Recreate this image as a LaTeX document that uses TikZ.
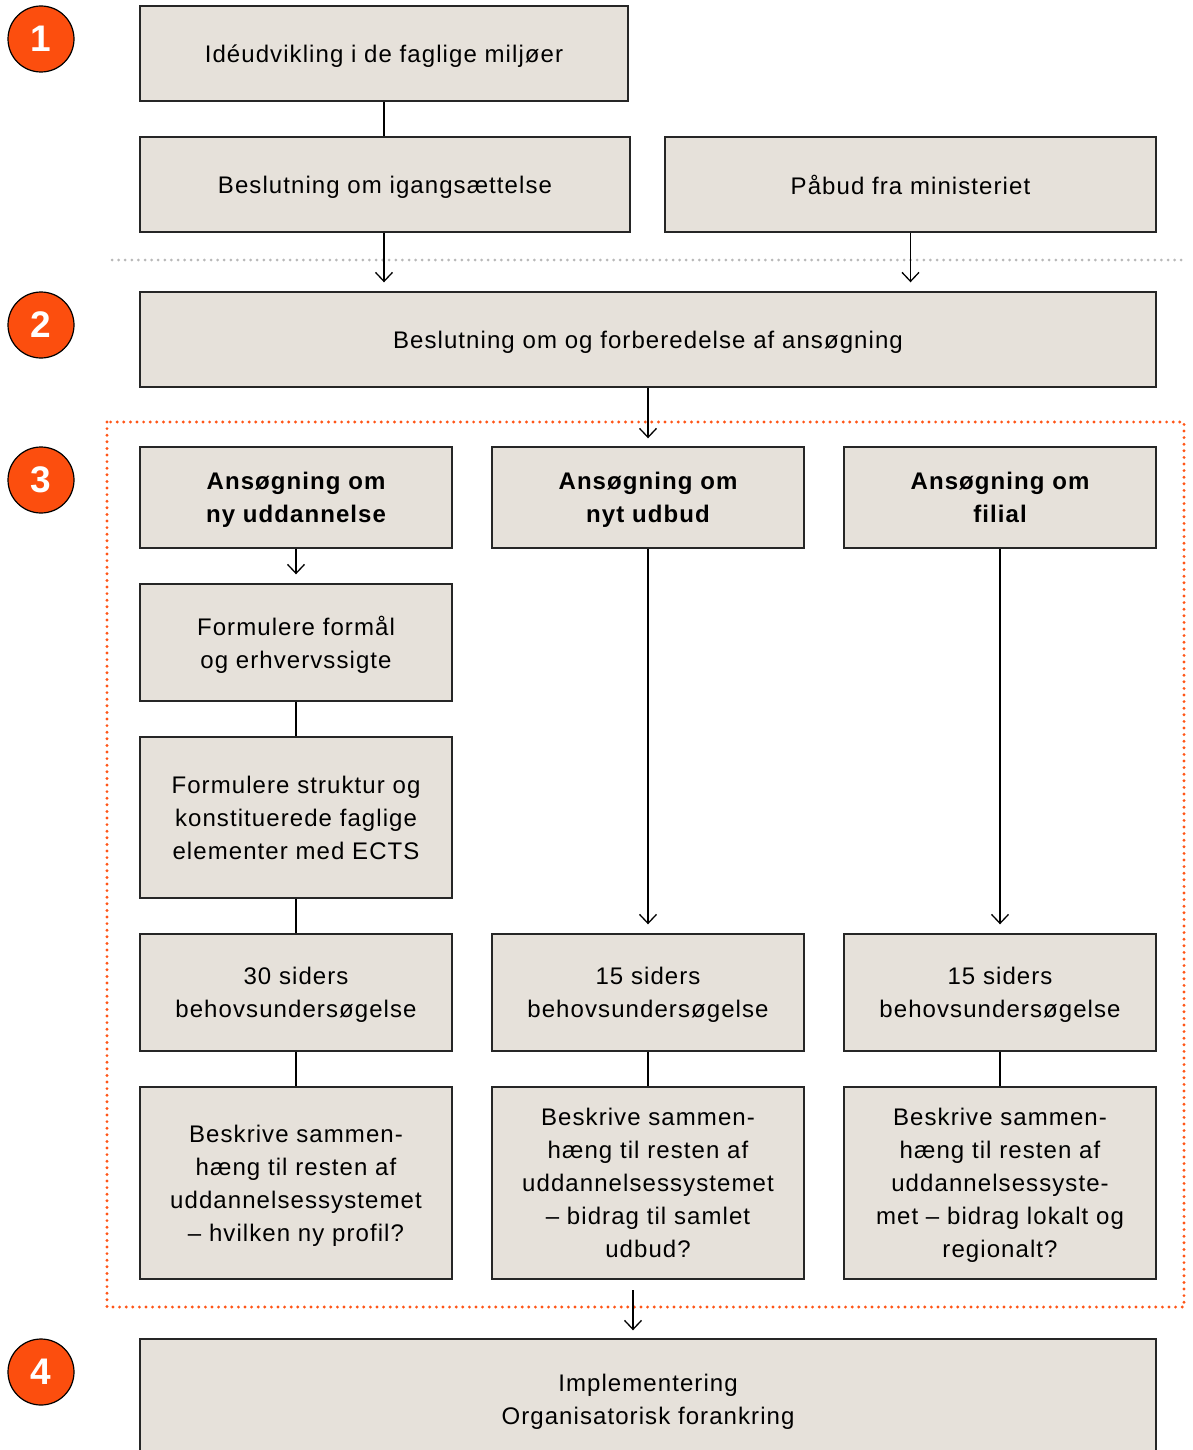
\documentclass[tikz,border=0pt]{standalone}
\usepackage{fontspec}
\setmainfont{Liberation Sans}[LetterSpace=4.5]
\newfontfamily\numfont{Liberation Sans}
\usetikzlibrary{arrows.meta}
\definecolor{boxfill}{HTML}{E6E1DA}
\definecolor{orng}{HTML}{FC4E0E}
\definecolor{dotorng}{HTML}{FF5517}
\definecolor{dotgray}{HTML}{B8B8B8}
\tikzset{
  box/.style={draw=black!85, line width=1.4pt, fill=boxfill, align=center, inner sep=0pt,
    text depth=0pt, font=\fontsize{24}{33}\selectfont},
  titlebox/.style={box, font=\fontsize{24}{33}\selectfont\bfseries},
  num/.style={circle, draw=black, line width=1.2pt, fill=orng, text=white, minimum size=66pt,
    inner sep=0pt, font=\numfont\fontsize{37}{37}\selectfont\bfseries},
  conn/.style={line width=1.3pt, black},
  arr/.style={conn, -{Straight Barb[length=9pt,width=17pt]}},
  graydots/.style={draw=dotgray, line width=3pt, line cap=round, dash pattern=on 0pt off 6.6pt},
  orangedots/.style={draw=dotorng, line width=3.2pt, line cap=round, dash pattern=on 0pt off 6.6pt},
}
\begin{document}
\begin{tikzpicture}[x=1pt,y=-1pt]
\clip (0,0) rectangle (1193,1450);
\fill[white] (0,0) rectangle (1193,1450);

% step circles
\node[num] (n1) at (41,39) {1};
\node[num] (n2) at (41,325) {2};
\node[num] (n3) at (41,480) {3};
\node[num] (n4) at (41,1372) {4};

% separators
\draw[graydots] (112,260) -- (1187,260);
\draw[orangedots] (107,422) rectangle (1184,1307);

% top boxes
\node[box, minimum width=488pt, minimum height=95pt] (b1) at (384,53.5) {Idéudvikling i de faglige miljøer};
\node[box, minimum width=490pt, minimum height=95pt] (b2) at (385,184.5) {Beslutning om igangsættelse};
\node[box, minimum width=491pt, minimum height=95pt] (b3) at (910.5,184.5) {Påbud fra ministeriet};
\node[box, minimum width=1016pt, minimum height=95pt] (b4) at (648,339.5) {Beslutning om og forberedelse af ansøgning};

% column titles
\node[titlebox, minimum width=312pt, minimum height=101pt] (a1) at (296,497.5) {Ansøgning om\\ny uddannelse};
\node[titlebox, minimum width=312pt, minimum height=101pt] (a2) at (648,497.5) {Ansøgning om\\nyt udbud};
\node[titlebox, minimum width=312pt, minimum height=101pt] (a3) at (1000,497.5) {Ansøgning om\\filial};

% column 1
\node[box, minimum width=312pt, minimum height=117pt] (c1) at (296,642.5) {Formulere formål\\og erhvervssigte};
\node[box, minimum width=312pt, minimum height=161pt] (c2) at (296,817.5) {Formulere struktur og\\konstituerede faglige\\elementer med ECTS};

% row D
\node[box, minimum width=312pt, minimum height=117pt] (d1) at (296,992.5) {30 siders\\behovsundersøgelse};
\node[box, minimum width=312pt, minimum height=117pt] (d2) at (648,992.5) {15 siders\\behovsundersøgelse};
\node[box, minimum width=312pt, minimum height=117pt] (d3) at (1000,992.5) {15 siders\\behovsundersøgelse};

% row E
\node[box, minimum width=312pt, minimum height=192pt] (e1) at (296,1183) {Beskrive sammen-\\hæng til resten af\\uddannelsessystemet\\– hvilken ny profil?};
\node[box, minimum width=312pt, minimum height=192pt] (e2) at (648,1183) {Beskrive sammen-\\hæng til resten af\\uddannelsessystemet\\– bidrag til samlet\\udbud?};
\node[box, minimum width=312pt, minimum height=192pt] (e3) at (1000,1183) {Beskrive sammen-\\hæng til resten af\\uddannelsessyste-\\met – bidrag lokalt og\\regionalt?};

% final box
\node[box, minimum width=1016pt, minimum height=120pt] (f) at (648,1399) {Implementering\\Organisatorisk forankring};

% connectors
\draw[conn] (b1.south) -- (b1.south |- b2.north);
\draw[arr, shorten >=9pt] (b2.south -| b1.south) -- (b1.south |- b4.north);
\draw[arr, shorten >=9pt] (b3.south) -- (b3.south |- b4.north);
\draw[arr, shorten >=8pt] (b4.south) -- (a2.north);
\draw[arr, shorten >=9pt] (a1.south) -- (c1.north);
\draw[conn] (c1.south) -- (c2.north);
\draw[conn] (c2.south) -- (d1.north);
\draw[conn] (d1.south) -- (e1.north);
\draw[arr, shorten >=9pt] (a2.south) -- (d2.north);
\draw[conn] (d2.south) -- (e2.north);
\draw[arr, shorten >=9pt] (a3.south) -- (d3.north);
\draw[conn] (d3.south) -- (e3.north);
\coordinate (s4) at (633,1290);
\draw[arr, shorten >=8pt] (s4) -- (s4 |- f.north);
\end{tikzpicture}
\end{document}
